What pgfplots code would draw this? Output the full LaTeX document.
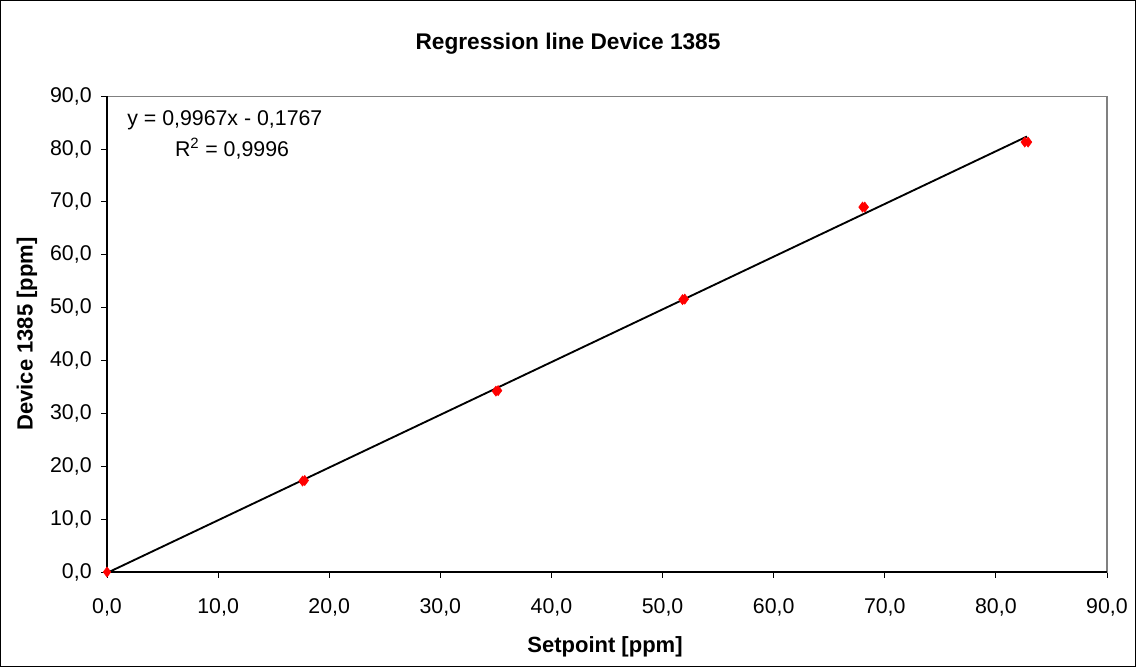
\documentclass[border=0pt]{standalone}
\usepackage{pgfplots}
\pgfplotsset{compat=1.18}
\usepackage{fontspec}
\setmainfont{Liberation Sans}
\begin{document}
\begin{tikzpicture}[x=0.75pt,y=0.75pt]
\draw[black, line width=0.8pt] (0.5,0.5) rectangle (1135.5,666.5);
\useasboundingbox (0,0) rectangle (1136,667);
\node[font=\bfseries\fontsize{17}{20}\selectfont] at (568,623) {Regression line Device 1385};
\node[font=\bfseries\fontsize{16.5}{20}\selectfont] at (605,20) {Setpoint [ppm]};
\node[font=\bfseries\fontsize{16.5}{20}\selectfont, rotate=90] at (27,333) {Device 1385 [ppm]};
\begin{axis}[
  at={(107pt*0.75,95pt*0.75)}, anchor=south west,
  scale only axis, width=750pt, height=357pt,
  xmin=0, xmax=90, ymin=0, ymax=90,
  xtick={0,10,...,90}, ytick={0,10,...,90},
  tick pos=left, tick align=outside,
  major tick length=4.5pt,
  every tick/.style={black, line width=0.6pt},
  axis line style={draw=gray, line width=0.8pt},
  /pgf/number format/assume math mode=true,
  /pgf/number format/.cd, fixed, fixed zerofill, precision=1, use comma,
  /pgfplots/.cd,
  ticklabel style={font=\fontsize{16}{18}\selectfont},
  xticklabel style={yshift=-12pt},
  yticklabel style={xshift=-3.5pt},
  clip=false,
]
\draw[black, line width=0.8pt] (axis cs:0,90) -- (axis cs:0,0) -- (axis cs:90,0);
\addplot[black, line width=1.4pt] coordinates {(0,-0.1767) (82.8,82.35)};
\addplot[only marks, mark=diamond*, mark size=3.8pt, color=red, mark options={fill=red, draw=red}] coordinates {
(0,0) (17.6,17.2) (17.8,17.3) (35.0,34.2) (35.2,34.3) (51.8,51.5) (52.0,51.6) (68.0,69.0) (68.2,69.0) (82.6,81.3) (82.9,81.3)
};
\node[anchor=west, font=\fontsize{16}{18}\selectfont] at (axis cs:1.4,85.5) {y = 0,9967x - 0,1767};
\node[anchor=west, font=\fontsize{16}{18}\selectfont] at (axis cs:5.7,80.0) {R\textsuperscript{2} = 0,9996};
\end{axis}
\end{tikzpicture}
\end{document}
